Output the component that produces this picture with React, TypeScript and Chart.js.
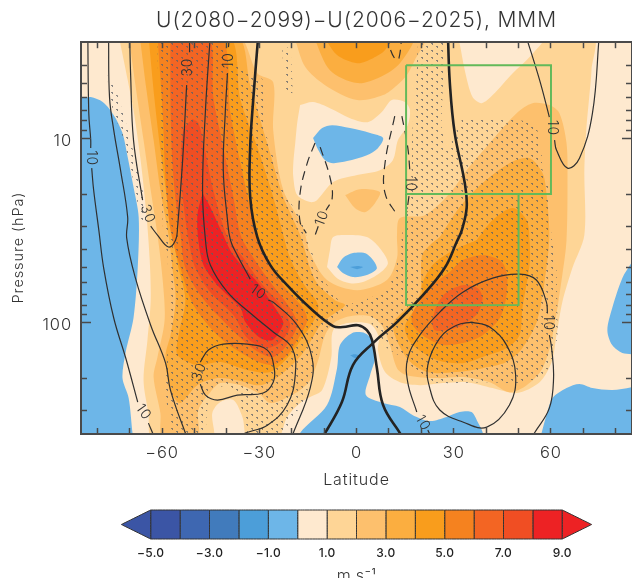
import React, { useEffect, useRef } from "react";
import { Chart, registerables } from "chart.js";

Chart.register(...registerables);

type Pt = [number, number]; // [latitude, log10(pressure hPa)]

const TITLE = "U(2080−2099)−U(2006−2025), MMM";
const Y_TITLE = "Pressure (hPa)";
const Y_TITLE_AT_HPA = 39;
const FONT = "Inter, 'DejaVu Sans', sans-serif";
const latTicks = [-80, -70, -60, -50, -40, -30, -20, -10, 0, 10, 20, 30, 40, 50, 60, 70, 80];
const pressureMajor = [10, 100];
const pressureMinor = [4, 5, 6, 7, 8, 9, 20, 30, 40, 50, 60, 70, 80, 90, 200, 300];

const cream = "#fee9cf";
const levelColors = ["#fed596", "#fdc06d", "#fbae40", "#f99d1c", "#f5821f", "#f36523", "#f04e23", "#ed2224"];
const blueColors = ["#3b55a5", "#3e67b1", "#417bbc", "#4c9ed9", "#6db6e8"];

const domain: Pt[] = [[-90, 0.3], [90, 0.3], [90, 2.8], [-90, 2.8]];

const level1Main: Pt[] = [[-73.4,.439],[72.5,.439],[72.5,.629],[71.8,.775],[70.9,.954],[70.3,1.171],[70.3,1.523],[66.6,1.702],[63.5,1.887],[61.7,2.066],[60.2,2.212],[56.5,2.321],[49.4,2.38],[42,2.353],[34,2.321],[26.6,2.326],[19.5,2.337],[13.4,2.321],[8.8,2.266],[6.6,2.147],[6.9,2.077],[4.2,2.006],[-2.6,2],[-7.2,2.039],[-7.8,2.19],[-10.6,2.364],[-14.3,2.402],[-17.4,2.434],[-21.4,2.51],[-24.5,2.635],[-33.4,2.635],[-35.2,2.51],[-38,2.418],[-42,2.429],[-44.5,2.489],[-44.5,2.635],[-62.9,2.635],[-64.2,2.489],[-65.7,2.31],[-64.5,2.093],[-63.5,1.876],[-63.8,1.659],[-64.8,1.415],[-66.6,1.117],[-68.8,.846],[-71.2,.629]];
const creamHoleTop: Pt[] = [[31.2,.439],[31.8,.482],[33.4,.629],[35.8,.775],[38.6,.808],[42,.764],[48.2,.645],[53.4,.558],[58,.439]];
const creamHoleCentre: Pt[] = [[-17.4,.818],[-13.4,.802],[-8.2,.835],[-2,.889],[3.5,.911],[7.8,.856],[10.9,.791],[14.9,.802],[16.5,.846],[15.8,.927],[12.8,1.008],[11.2,1.117],[7.2,1.171],[.2,1.198],[-7.2,1.236],[-12.2,1.334],[-14.3,1.344],[-18.3,1.306],[-19.5,1.209],[-19.5,1.133],[-18.9,1.024],[-18.3,.916]];
const creamHoleLower: Pt[] = [[-9.1,1.697],[-8.2,1.605],[-7.2,1.534],[-2.9,1.523],[3.2,1.534],[7.2,1.594],[9.7,1.675],[7.2,1.729],[2,1.778],[-2,1.784],[-6,1.757]];

const level2Main: Pt[] = [[-70.3,.439],[-36.8,.439],[-30.6,.645],[-25.7,.694],[-25.7,.954],[-22.6,1.279],[-16.5,1.48],[-14.3,1.621],[-9.1,1.767],[.2,1.822],[9.4,1.767],[12.5,1.648],[12.5,1.523],[13.4,1.431],[21.1,1.415],[28.8,1.296],[34,1.171],[41.1,1.024],[49.4,.862],[54.3,.808],[59.5,.818],[62.6,.862],[64.8,1.024],[65.1,1.225],[64.8,1.55],[63.5,1.74],[60.5,2.066],[57.4,2.245],[52.5,2.337],[47.2,2.375],[41.1,2.321],[32.8,2.293],[24.8,2.299],[15.5,2.283],[12.5,2.245],[10.3,2.12],[7.8,2.012],[4.2,1.963],[-2,1.963],[-6.6,1.995],[-9.7,2.066],[-11.8,2.201],[-14.3,2.31],[-17.4,2.364],[-20.5,2.397],[-26.6,2.434],[-30.3,2.38],[-35.8,2.337],[-42,2.326],[-45.1,2.375],[-48.8,2.472],[-49.1,2.635],[-59.8,2.635],[-60.5,2.489],[-62.6,2.293],[-61.4,2.185],[-59.2,1.984],[-59.8,1.767],[-61.4,1.523],[-63.5,1.279],[-65.7,1.008],[-68.2,.71]];
const level2Blob: Pt[] = [[-3.5,1.306],[1.1,1.274],[7.2,1.29],[5.7,1.35],[2.6,1.399],[-.5,1.377]];
const level2Top: Pt[] = [[-19.2,.439],[-18.6,.482],[-15.8,.612],[-9.7,.71],[.2,.791],[8.2,.764],[12.5,.71],[15.5,.656],[18,.574],[21.1,.439]];

const level3Left: Pt[] = [[-66.9,.439],[-37.1,.439],[-32.8,.71],[-27.2,1.046],[-22.6,1.317],[-17.4,1.523],[-12.8,1.767],[-6.6,1.876],[-3.5,1.903],[-8.8,1.973],[-11.2,2.012],[-16.5,2.163],[-23.5,2.283],[-29.7,2.337],[-36.8,2.31],[-42.9,2.299],[-49.1,2.337],[-54.3,2.434],[-56.5,2.402],[-58,2.337],[-58.9,2.174],[-57.4,2.066],[-55.8,1.876],[-56.8,1.702],[-58,1.523],[-60.5,1.279],[-62.6,1.008],[-64.8,.737]];
const level3Right: Pt[] = [[25.7,1.534],[31.8,1.372],[38.9,1.241],[47.2,1.133],[53.4,1.106],[57.4,1.187],[58.6,1.296],[59.5,1.523],[58.6,1.702],[55.8,1.984],[51.2,2.136],[46.3,2.212],[38.9,2.245],[30.9,2.266],[21.7,2.266],[15.5,2.19],[11.2,2.012],[15.5,1.919],[19.5,1.849],[20.2,1.632],[22.6,1.578]];
const level3Top: Pt[] = [[-13.4,.439],[-8.2,.629],[.2,.699],[7.2,.667],[13.4,.591],[17.4,.439]];

const level4Left: Pt[] = [[-64.2,.439],[-39.5,.439],[-35.8,.791],[-30.6,1.046],[-25.7,1.317],[-22.6,1.523],[-20.5,1.648],[-16.5,1.784],[-11.8,1.903],[-13.4,1.995],[-16.8,2.082],[-20.5,2.174],[-26.6,2.266],[-33.7,2.255],[-42,2.212],[-49.1,2.228],[-55.2,2.174],[-54.9,2.066],[-52.8,1.876],[-54.9,1.702],[-56.8,1.523],[-58.6,1.306],[-60.5,1.062],[-62.3,.791]];
const level4Right: Pt[] = [[37.1,1.55],[42,1.442],[48.2,1.377],[52.5,1.442],[53.4,1.55],[53.4,1.686],[51.2,1.919],[50.3,2.066],[46.3,2.136],[38.9,2.185],[32.8,2.218],[24.8,2.201],[17.4,2.12],[14.9,2.028],[17.4,1.941],[20.5,1.887],[20.2,1.795],[23.5,1.686],[28.8,1.616]];
const level4Top: Pt[] = [[-10.3,.439],[-6,.547],[.2,.591],[5.1,.564],[8.8,.52],[10.9,.439]];

const level5Left: Pt[] = [[-61.4,.439],[-42,.439],[-38.9,.862],[-35.8,1.133],[-32.8,1.372],[-30.6,1.523],[-27.5,1.648],[-22.6,1.795],[-16.5,1.919],[-15.2,1.984],[-17.4,2.066],[-21.4,2.174],[-26,2.228],[-32.8,2.19],[-42,2.082],[-50.3,1.903],[-54.3,1.702],[-57.4,1.496],[-58.9,1.225],[-59.8,.862]];
const level5Right: Pt[] = [[28.8,1.724],[32.8,1.659],[38.9,1.632],[44.2,1.659],[46.3,1.724],[46.3,1.849],[44.2,1.973],[38.9,2.066],[32.8,2.109],[26.6,2.12],[21.7,2.082],[17.4,2.012],[17.4,1.941],[23.5,1.795]];

const level6Left: Pt[] = [[-57.4,.439],[-45.7,.439],[-44.2,.775],[-41.1,1.046],[-38,1.317],[-35.8,1.523],[-33.7,1.594],[-27.5,1.757],[-20.5,1.919],[-18.3,2.012],[-22,2.131],[-26,2.185],[-31.2,2.147],[-38.9,2.028],[-47.5,1.865],[-52.8,1.702],[-54.3,1.523],[-55.2,1.426],[-56.8,1.133],[-57.4,.775]];
const level6Right: Pt[] = [[23.2,2.001],[24.8,1.903],[27.8,1.833],[32.8,1.795],[37.4,1.811],[38.9,1.865],[37.4,1.946],[32.8,2.012],[27.8,2.039],[24.2,2.039]];

const level7: Pt[] = [[-50.6,.894],[-48.8,.916],[-47.2,1.024],[-44.2,1.279],[-39.8,1.534],[-34.9,1.648],[-29.7,1.778],[-23.5,1.903],[-20.5,2.012],[-23.5,2.104],[-28.2,2.136],[-33.7,2.082],[-38,1.957],[-45.1,1.833],[-49.7,1.702],[-51.8,1.55],[-53.4,1.35],[-54.3,1.171],[-53.4,.954]];
const level8: Pt[] = [[-47.5,1.296],[-45.1,1.372],[-41.4,1.513],[-38,1.632],[-30.6,1.778],[-25.7,1.903],[-22.6,1.995],[-23.5,2.039],[-26,2.093],[-29.7,2.082],[-34.3,1.995],[-35.8,1.919],[-42.9,1.795],[-47.2,1.686],[-48.8,1.55],[-49.1,1.415]];

const blueLeft: Pt[] = [[-86.6,.78],[-84.8,.78],[-82,.775],[-78.3,.802],[-74.9,.873],[-72.2,.97],[-70.6,1.1],[-68.8,1.263],[-67.2,1.426],[-67.5,1.702],[-68.8,1.973],[-71.2,2.158],[-72.2,2.299],[-70.3,2.407],[-69.1,2.597],[-68.5,2.662],[-86.6,2.662]];
const blueUpper: Pt[] = [[-13.4,.997],[-10.6,.943],[-7.5,.927],[-2,.943],[4.2,.97],[8.2,.997],[6.6,1.052],[3.2,1.09],[-2.9,1.122],[-7.2,1.133],[-9.7,1.117],[-11.8,1.062]];
const blueLower: Pt[] = [[-6,1.697],[-4.2,1.648],[-1.1,1.621],[3.2,1.626],[6.3,1.702],[3.2,1.74],[-1.1,1.751],[-4.2,1.729]];
const blueSurface: Pt[] = [[-17.4,2.662],[-17.4,2.597],[-9.1,2.445],[-6,2.245],[-5.1,2.12],[-1.4,2.055],[2.6,2.055],[4.8,2.093],[5.7,2.19],[4.2,2.283],[2.9,2.391],[8.2,2.434],[13.4,2.456],[17.4,2.5],[22.6,2.532],[27.8,2.51],[31.8,2.483],[35.5,2.483],[37.4,2.537],[38.9,2.592],[39.5,2.662]];
const blueRightLow: Pt[] = [[57.1,2.597],[58.6,2.5],[60.5,2.407],[64.8,2.353],[68.8,2.331],[72.8,2.353],[78.9,2.364],[84.8,2.348],[87.2,2.337],[87.2,2.662],[56.5,2.662]];
const blueRightMid: Pt[] = [[84.8,1.675],[82,1.757],[78.9,1.919],[77.4,2.039],[78.9,2.12],[82,2.163],[84.8,2.169],[87.2,2.174],[87.2,1.675]];
const deepBlueA: Pt[] = [[-2,1.697],[.2,1.691],[2,1.697],[.2,1.708]];
const deepBlueB: Pt[] = [[-2,2.174],[-.5,2.169],[1.1,2.18],[-.5,2.19]];

const stippleMain: Pt[] = [[-61.4,.439],[-45.1,.439],[-38,.601],[-33.7,.629],[-28.8,.683],[-28.2,.829],[-28.2,.954],[-25.7,1.1],[-22.6,1.279],[-16.5,1.458],[-15.2,1.55],[-13.4,1.632],[-12.2,1.713],[-7.2,1.838],[-4.2,1.903],[4.2,1.865],[7.2,1.838],[10.3,1.795],[13.4,1.616],[14,1.534],[16.5,1.279],[17.1,1.133],[17.1,1.024],[17.4,.916],[18,.775],[18.6,.645],[19.5,.439],[27.2,.439],[27.2,.591],[26.6,.737],[26.3,.938],[27.8,1.062],[29.7,1.008],[32.8,.894],[42,.894],[54.9,.916],[57.1,1.079],[57.4,1.171],[59.5,1.279],[60.2,1.534],[61.7,1.702],[62,2.066],[60.5,2.212],[56.5,2.299],[49.4,2.326],[40.2,2.321],[22.6,2.321],[14.3,2.19],[9.4,2.136],[7.2,2.066],[3.2,1.973],[-2,1.941],[-2.9,1.93],[-8.2,2.001],[-12.2,2.174],[-14.3,2.321],[-16.5,2.429],[-22.6,2.597],[-22.6,2.635],[-32.8,2.635],[-34.9,2.5],[-36.8,2.391],[-39.8,2.337],[-45.1,2.375],[-46,2.462],[-47.2,2.635],[-56.5,2.635],[-57.4,2.538],[-58.9,2.391],[-58.3,2.158],[-57.4,2.066],[-58,1.795],[-58.3,1.632],[-59.5,1.534],[-60.5,1.133],[-61.1,.775]];
const stippleStrip: Pt[] = [[-76.8,.656],[-76.5,.737],[-74.9,.862],[-72.5,.97],[-70.6,1.09],[-68.2,1.279],[-66.6,1.442],[-65.7,1.442],[-65.7,1.306],[-68.2,1.117],[-70.9,.927],[-74,.748]];
const stippleTop: Pt[] = [[-22.9,.504],[-20.5,.509],[-19.8,.753],[-22,.753],[-22.6,.612]];

const thinContours: Pt[][] = [
  [[-82.9,.439],[-82.6,.862],[-82,1.008],[-82,1.051]],
  [[-81.7,1.16],[-81.1,1.279],[-79.5,1.496],[-78,1.702],[-74.9,1.973],[-71.2,2.19],[-67.5,2.429]],
  [[-64.2,2.543],[-62,2.635]],
  [[-76.5,.439],[-76.2,.775],[-74.9,.954],[-72.8,1.171],[-70.6,1.426],[-70.9,1.54],[-68.2,1.757],[-63.5,2.012],[-58.9,2.218],[-57.4,2.364],[-52.8,2.597],[-51.8,2.635]],
  [[-70,.439],[-69.7,.645],[-68.8,1.008],[-66,1.334]],
  [[-63.5,1.475],[-61.4,1.523],[-58,1.588],[-55.8,1.55],[-55.2,1.48],[-53.7,1.133],[-52.4,.71]],
  [[-51.5,.531],[-51.5,.439]],
  [[-45.1,.439],[-46.6,.846],[-47.5,1.279],[-46.6,1.55],[-45.1,1.686],[-39.8,1.833],[-32.8,1.946],[-25.7,2.049],[-19.9,2.136],[-18.9,2.283],[-21.4,2.445],[-27.5,2.554],[-34.3,2.597],[-37.4,2.624]],
  [[-39.2,.439],[-39.5,.504]],
  [[-39.8,.645],[-40.5,.862],[-41.1,1.171],[-39.8,1.442],[-38.9,1.55],[-36.8,1.632],[-32.8,1.762]],
  [[-27.2,1.876],[-25.7,1.887],[-18.3,2.012],[-13.7,2.19],[-14.3,2.353],[-19.5,2.597],[-20.5,2.635]],
  [[-48.2,2.212],[-45.7,2.147],[-41.1,2.115],[-33.7,2.115],[-27.5,2.147],[-25.4,2.245],[-25.7,2.321],[-28.8,2.38],[-36.8,2.391],[-42.9,2.418],[-46.6,2.391],[-48.2,2.332]],
  [[52.2,.439],[56.5,.683],[59.5,.883]],
  [[61.1,1.008],[61.7,1.062],[65.1,1.16],[68.8,1.106],[72.8,.862],[74.9,.439]],
  [[22,2.581],[23.5,2.635]],
  [[18.6,2.483],[15.8,2.321],[15.8,2.19],[19.5,2.066],[25.7,1.941],[32.8,1.833],[42,1.757],[50.3,1.735],[55.5,1.767],[58.6,1.887],[58.9,1.946]],
  [[59.5,2.066],[60.2,2.136],[60.8,2.299],[59.5,2.462],[54.9,2.597],[53.7,2.635]],
  [[35.5,1.995],[41.1,2.022],[46.3,2.12],[49.1,2.283],[47.2,2.445],[40.2,2.565],[32.8,2.537],[25.7,2.472],[22.6,2.353],[22,2.228],[25.7,2.082],[30.9,2.012],[35.5,1.995]],
];
const zeroContours: Pt[][] = [
  [[-30.3,.439],[-31.8,.775],[-32.8,1.046],[-32.8,1.317],[-30.6,1.534],[-26.6,1.686],[-21.4,1.795],[-14.3,1.919],[-7.2,2.017],[-4.2,2.022],[.5,2.012],[3.2,2.039],[4.8,2.093],[6.3,2.245],[8.2,2.445],[13.4,2.597],[14.9,2.635]],
  [[28.2,.439],[28.8,.699],[30.3,.97],[33.4,1.241],[34,1.372],[32.5,1.496],[30.9,1.561],[27.2,1.702],[20.5,1.849],[12.5,1.995],[5.1,2.109],[-1.1,2.228],[-4.5,2.429],[-9.7,2.597],[-11.2,2.635]],
];
const dashedContours: Pt[][] = [
  [[-12.8,1.024],[-15.2,1.133],[-17.4,1.296],[-17.4,1.453],[-15.5,1.513]],
  [[-11.2,1.046],[-8.2,1.209],[-7.5,1.323],[-9.4,1.388]],
  [[-11.8,1.475],[-13.1,1.54]],
  [[11.8,.878],[8.8,1.133],[8.8,1.296],[12.5,1.415]],
  [[14,.878],[15.8,1.046],[16.5,1.182]],
  [[16.2,1.312],[15.5,1.399]],
  [[9.7,.439],[10.3,.509],[12.2,.574],[13.1,.564],[14,.439]],
];
const contourLabels: [number, number, string, number][] = [
  [-81.7,1.106,"10",90],[-64.4,1.409,"30",70],[-52.2,.612,"30",-90],[-39.5,.574,"10",-90],
  [-10.6,1.431,"10",-70],[-30.3,1.833,"10",35],[-48.5,2.266,"30",-70],[-65.7,2.483,"10",55],
  [60.5,.943,"10",90],[16.5,1.247,"10",90],[59.2,2,"10",90],[20.5,2.543,"10",60],
];
const boxUpper = { latMin: 15.3, latMax: 60, pTop: 4, pBottom: 20 };
const boxLower = { latMin: 15.3, latMax: 50, pTop: 20, pBottom: 80 };

const barEdges = [-5,-4,-3,-2,-1,0,1,2,3,4,5,6,7,8,9];
const barColors = [...blueColors, cream, ...levelColors];
const barTicks = [-5,-3,-1,1,3,5,7,9];
const UNITS = "m s⁻¹";

const toData = (pts: Pt[], close: boolean) => {
  const out = pts.map(([lat, l]) => ({ x: lat, y: Math.pow(10, l) }));
  if (close) out.push({ ...out[0] });
  return out;
};
const fillSet = (pts: Pt[], color: any, tension = 0.3) => ({
  data: toData(pts, true), fill: "shape", backgroundColor: color, borderWidth: 0, pointRadius: 0, tension,
});
const lineSet = (pts: Pt[], width: number, color: string, dash: number[] = []) => ({
  data: toData(pts, false), fill: false, borderColor: color, borderWidth: width, borderDash: dash, pointRadius: 0, tension: 0.4,
});
const rectSet = (b: { latMin: number; latMax: number; pTop: number; pBottom: number }) => ({
  data: [
    { x: b.latMin, y: b.pTop }, { x: b.latMax, y: b.pTop }, { x: b.latMax, y: b.pBottom },
    { x: b.latMin, y: b.pBottom }, { x: b.latMin, y: b.pTop },
  ],
  fill: false, borderColor: "#63b95a", borderWidth: 2, pointRadius: 0, tension: 0.0001,
});

const stipplePattern = () => {
  const c = document.createElement("canvas");
  c.width = 10; c.height = 7;
  const g = c.getContext("2d")!;
  g.fillStyle = "rgba(92,96,102,0.72)";
  g.fillRect(1, 1, 2, 1); g.fillRect(2, 2, 1, 1);
  g.fillRect(6, 4, 2, 1); g.fillRect(7, 5, 1, 1);
  return g.createPattern(c, "repeat");
};

const axisColor = "#4a4a4a";
const fixTicks = (vals: number[]) => (s: any) => { s.ticks = vals.map((value) => ({ value })); };
const lightFont = (size: number) => ({ family: FONT, size, weight: "300" });
const spacing = (px: number) => ({
  id: "letterSpacing",
  beforeDraw(chart: any) { chart.ctx.letterSpacing = `${px}px`; },
});

export default function App() {
  const mainRef = useRef<HTMLCanvasElement>(null);
  const barRef = useRef<HTMLCanvasElement>(null);
  useEffect(() => {
    const pat = stipplePattern();
    const ordered: any[] = [
      fillSet(domain, cream, 0),
      fillSet(level1Main, levelColors[0]),
      fillSet(creamHoleTop, cream), fillSet(creamHoleCentre, cream), fillSet(creamHoleLower, cream),
      fillSet(level2Main, levelColors[1]), fillSet(level2Blob, levelColors[1]), fillSet(level2Top, levelColors[1]),
      fillSet(level3Left, levelColors[2]), fillSet(level3Right, levelColors[2]), fillSet(level3Top, levelColors[2]),
      fillSet(level4Left, levelColors[3]), fillSet(level4Right, levelColors[3]), fillSet(level4Top, levelColors[3]),
      fillSet(level5Left, levelColors[4]), fillSet(level5Right, levelColors[4]),
      fillSet(level6Left, levelColors[5]), fillSet(level6Right, levelColors[5]),
      fillSet(level7, levelColors[6]), fillSet(level8, levelColors[7]),
      fillSet(blueLeft, blueColors[4]), fillSet(blueUpper, blueColors[4]), fillSet(blueLower, blueColors[4]),
      fillSet(blueSurface, blueColors[4]), fillSet(blueRightLow, blueColors[4]), fillSet(blueRightMid, blueColors[4]),
      fillSet(deepBlueA, blueColors[3]), fillSet(deepBlueB, blueColors[3]),
      fillSet(stippleMain, pat, 0.15), fillSet(stippleStrip, pat, 0.15), fillSet(stippleTop, pat, 0.15),
      ...thinContours.map((c) => lineSet(c, 1.2, "#303030")),
      ...dashedContours.map((c) => lineSet(c, 1.2, "#303030", [9, 6])),
      ...zeroContours.map((c) => lineSet(c, 2.6, "#232323")),
      rectSet(boxUpper), rectSet(boxLower),
    ];
    ordered.forEach((d, i) => { d.order = ordered.length - i; });

    const labelPlugin = {
      id: "contourLabels",
      afterDatasetsDraw(chart: any) {
        const { ctx, scales } = chart;
        ctx.save();
        ctx.fillStyle = "#333";
        ctx.font = `300 14px ${FONT}`;
        ctx.textAlign = "center";
        ctx.textBaseline = "middle";
        for (const [lat, l, txt, ang] of contourLabels) {
          ctx.save();
          ctx.translate(scales.x.getPixelForValue(lat), scales.y.getPixelForValue(Math.pow(10, l)));
          ctx.rotate((ang * Math.PI) / 180);
          ctx.fillText(txt, 0, 0);
          ctx.restore();
        }
        ctx.font = `300 14.5px ${FONT}`;
        ctx.translate(scales.y.left + 19, scales.y.getPixelForValue(Y_TITLE_AT_HPA));
        ctx.rotate(-Math.PI / 2);
        ctx.fillText(Y_TITLE, 0, 0);
        ctx.restore();
      },
    };

    const yBase = { type: "logarithmic", min: 3, max: 400, reverse: true };
    const tickGrid = (len: number) => ({ z: 2, drawOnChartArea: false, tickLength: len, tickColor: axisColor, tickWidth: 1.5 });
    const frame = { display: true, width: 2, color: axisColor, z: 2 };
    const zeroW = (s: any) => { s.width = 0; };
    const noLabels = { display: false };
    const main = new Chart(mainRef.current!, {
      type: "line",
      data: { datasets: ordered },
      plugins: [spacing(0.9), labelPlugin],
      options: {
        responsive: false, animation: false, events: [],
        layout: { padding: { bottom: 88 } },
        plugins: {
          legend: { display: false }, tooltip: { enabled: false },
          title: { display: true, text: TITLE, fullSize: false, color: "#333", font: { ...lightFont(21), lineHeight: 1.2 }, padding: { top: 8, bottom: 9 } },
        },
        scales: {
          x: {
            type: "linear", position: "bottom", min: -85, max: 85,
            afterBuildTicks: fixTicks(latTicks),
            afterFit: (s: any) => { s.height = 56; },
            grid: tickGrid(-6),
            border: frame,
            ticks: {
              padding: 15, autoSkip: false, maxRotation: 0, color: "#333", font: lightFont(16.5),
              callback: (v: any) => (Number(v) % 30 === 0 ? String(v).replace("-", "−") : ""),
            },
            title: { display: true, text: "Latitude", color: "#333", font: lightFont(16), padding: 0 },
          },
          xTop: {
            type: "linear", position: "top", min: -85, max: 85,
            afterBuildTicks: fixTicks(latTicks), afterFit: (s: any) => { s.height = 0; },
            grid: tickGrid(-6), border: frame, ticks: { ...noLabels, autoSkip: false },
          },
          y: {
            ...yBase, position: "left", weight: 10,
            afterBuildTicks: fixTicks(pressureMajor), afterFit: (s: any) => { s.width = 81; },
            grid: tickGrid(-10), border: frame,
            ticks: { padding: 19, labelOffset: 2, autoSkip: false, color: "#333", font: lightFont(16.5), callback: (v: any) => String(v) },
          },
          yMinor: {
            ...yBase, position: "left", weight: 0,
            afterBuildTicks: fixTicks(pressureMinor), afterFit: zeroW,
            grid: tickGrid(-6), border: { display: false }, ticks: { ...noLabels, autoSkip: false },
          },
          yRight: {
            ...yBase, position: "right",
            afterBuildTicks: fixTicks(pressureMajor), afterFit: zeroW,
            grid: tickGrid(-10), border: frame, ticks: { ...noLabels, autoSkip: false },
          },
          yRightMinor: {
            ...yBase, position: "right",
            afterBuildTicks: fixTicks(pressureMinor), afterFit: zeroW,
            grid: tickGrid(-6), border: { display: false }, ticks: { ...noLabels, autoSkip: false },
          },
        },
      } as any,
    } as any);

    const cell = (a: number, b: number, color: string) => ({
      data: [{ x: a, y: 0 }, { x: b, y: 0 }, { x: b, y: 1 }, { x: a, y: 1 }, { x: a, y: 0 }],
      fill: "shape", backgroundColor: color, borderColor: "#333", borderWidth: 1, pointRadius: 0, tension: 0.0001, clip: false,
    });
    const tri = (tip: number, base: number, color: string) => ({
      data: [{ x: tip, y: 0.5 }, { x: base, y: 0 }, { x: base, y: 1 }, { x: tip, y: 0.5 }],
      fill: "shape", backgroundColor: color, borderColor: "#333", borderWidth: 1, pointRadius: 0, tension: 0.0001, clip: false,
    });
    const barSets = [
      tri(-6, -5, barColors[0]), tri(10, 9, barColors[barColors.length - 1]),
      ...barColors.map((c, i) => cell(barEdges[i], barEdges[i + 1], c)),
    ];
    const bar = new Chart(barRef.current!, {
      type: "line",
      data: { datasets: barSets },
      plugins: [spacing(0.3)],
      options: {
        responsive: false, animation: false, events: [],
        layout: { padding: { left: 121.3, right: 40.3, top: 20, bottom: 14 } },
        plugins: { legend: { display: false }, tooltip: { enabled: false } },
        scales: {
          x: {
            type: "linear", min: -6, max: 10,
            afterBuildTicks: fixTicks(barTicks), afterFit: (s: any) => { s.height = 47; },
            grid: { display: false, drawTicks: false }, border: { display: false },
            ticks: {
              padding: 7, autoSkip: false, maxRotation: 0, color: "#222", font: { family: FONT, size: 12, weight: "500" },
              callback: (v: any) => Number(v).toFixed(1).replace("-", "−"),
            },
            title: { display: true, text: UNITS, color: "#333", font: lightFont(16), padding: 0 },
          },
          y: { type: "linear", min: 0, max: 1, display: false },
        },
      } as any,
    } as any);
    return () => { main.destroy(); bar.destroy(); };
  }, []);
  return (
    <div style={{ position: "fixed", left: 0, top: 0, width: 632, height: 578, overflow: "hidden", background: "#fff" }}>
      <canvas ref={mainRef} width={632} height={578} style={{ position: "absolute", left: 0, top: 0 }} />
      <canvas ref={barRef} width={632} height={110} style={{ position: "absolute", left: 0, top: 490 }} />
    </div>
  );
}
